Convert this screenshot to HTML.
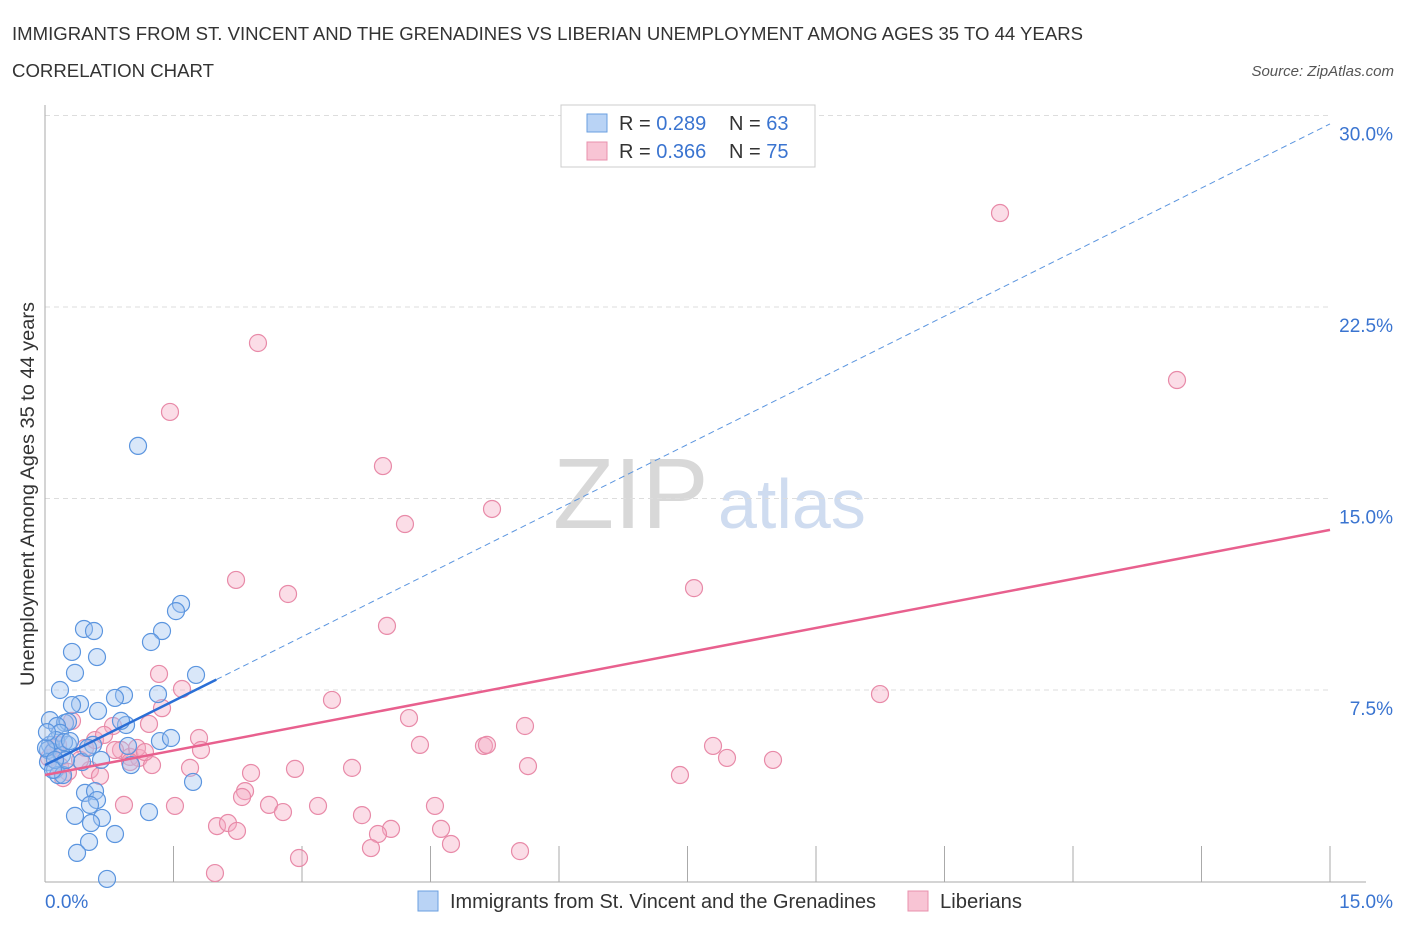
<!DOCTYPE html>
<html><head><meta charset="utf-8"><style>
body{margin:0;background:#fff;font-family:"Liberation Sans",sans-serif}
svg text{font-family:"Liberation Sans",sans-serif}
</style></head><body>
<svg id="chart" width="1406" height="930" xmlns="http://www.w3.org/2000/svg">
<text x="12" y="40" font-size="18" fill="#333" textLength="1071" lengthAdjust="spacingAndGlyphs">IMMIGRANTS FROM ST. VINCENT AND THE GRENADINES VS LIBERIAN UNEMPLOYMENT AMONG AGES 35 TO 44 YEARS</text>
<text x="12" y="77" font-size="18" fill="#333" textLength="202" lengthAdjust="spacingAndGlyphs">CORRELATION CHART</text>
<text x="1394" y="76" font-size="15" fill="#555" text-anchor="end" font-style="italic">Source: ZipAtlas.com</text>
<text x="553" y="528" font-size="100" fill="#d8d8d8" font-family="Liberation Serif">ZIP</text>
<text x="718" y="528" font-size="70" fill="#cfdcf0">atlas</text>
<g id="grid"></g>
<g id="axes"></g>
<g id="pts"></g>
<g id="lines"></g>
<text transform="translate(34,494) rotate(-90)" font-size="19" fill="#333" text-anchor="middle" textLength="384" lengthAdjust="spacingAndGlyphs">Unemployment Among Ages 35 to 44 years</text>
<g>
<rect x="561" y="105" width="254" height="62" fill="#fff" stroke="#ccc"/>
<rect x="587" y="114" width="20" height="18" fill="#b9d3f5" stroke="#6a9fe0"/>
<text x="619" y="130" font-size="20" fill="#333">R = <tspan fill="#3a74d0">0.289</tspan></text>
<text x="729" y="130" font-size="20" fill="#333">N = <tspan fill="#3a74d0">63</tspan></text>
<rect x="587" y="142" width="20" height="18" fill="#f8c4d4" stroke="#e890ad"/>
<text x="619" y="158" font-size="20" fill="#333">R = <tspan fill="#3a74d0">0.366</tspan></text>
<text x="729" y="158" font-size="20" fill="#333">N = <tspan fill="#3a74d0">75</tspan></text>
</g>
<g>
<rect x="418" y="891" width="20" height="20" fill="#b9d3f5" stroke="#6a9fe0"/>
<text x="450" y="908" font-size="20" fill="#333" textLength="426" lengthAdjust="spacingAndGlyphs">Immigrants from St. Vincent and the Grenadines</text>
<rect x="908" y="891" width="20" height="20" fill="#f8c4d4" stroke="#e890ad"/>
<text x="940" y="908" font-size="20" fill="#333" textLength="82" lengthAdjust="spacingAndGlyphs">Liberians</text>
</g>
</svg>
<script>
const NS="http://www.w3.org/2000/svg";
const yTicks=[7.5,15,22.5,30];
const yTickLabels=["7.5%","15.0%","22.5%","30.0%"];
const xTicks=[0,1.5,3,4.5,6,7.5,9,10.5,12,13.5,15];
const xEndLabels=["0.0%","15.0%"];
const blueX=[1.086,1.588,1.529,1.366,1.237,0.455,0.572,0.315,0.607,0.350,0.175,1.763,1.319,0.922,0.817,0.409,0.315,0.619,0.058,0.233,0.268,0.140,0.946,0.887,0.175,0.058,0.268,0.560,0.035,1.342,1.471,0.969,0.093,0.198,0.654,0.432,1.004,0.035,0.117,0.152,0.210,1.728,0.467,0.584,0.607,0.525,0.350,0.665,0.537,0.817,1.214,0.514,0.374,0.724,0.128,0.012,0.245,0.117,0.222,0.023,0.292,0.502,0.093];
const blueY=[17.06,10.87,10.59,9.81,9.38,9.89,9.81,8.99,8.79,8.17,7.50,8.09,7.34,7.30,7.19,6.95,6.91,6.68,6.32,6.21,6.25,6.09,6.13,6.29,5.82,5.35,5.35,5.35,5.15,5.50,5.62,5.31,5.07,4.95,4.76,4.68,4.56,4.68,4.37,4.17,4.17,3.90,3.47,3.54,3.19,3.00,2.57,2.49,2.29,1.86,2.72,1.55,1.12,0.10,5.54,5.23,4.76,4.76,5.46,5.85,5.50,5.23,4.37];
const pinkX=[11.148,2.486,1.459,13.214,3.945,4.202,5.218,2.230,2.837,7.576,3.992,1.331,1.599,3.350,9.747,1.366,4.249,1.214,5.603,0.794,0.315,1.798,4.377,5.124,5.159,7.798,7.961,1.821,0.887,0.992,1.097,1.249,8.498,5.638,1.693,2.405,2.918,3.584,0.047,0.175,0.268,0.525,0.642,0.210,2.335,2.300,7.412,0.922,1.517,2.615,3.187,3.700,2.778,4.552,2.008,2.136,2.241,4.039,3.887,4.623,3.805,4.739,2.965,5.545,1.984,0.467,0.584,0.117,0.817,1.074,0.689,1.167,0.152,0.409,0.992];
const pinkY=[26.18,21.09,18.39,19.64,16.27,14.00,14.59,11.81,11.26,11.49,10.01,8.13,7.54,7.11,7.34,6.79,6.40,6.17,6.09,6.09,6.29,5.62,5.35,5.31,5.35,5.31,4.84,5.15,5.15,4.88,4.84,4.56,4.76,4.52,4.45,4.25,4.41,4.45,4.84,4.52,4.29,4.37,4.13,4.05,3.54,3.31,4.17,3.00,2.96,3.00,2.96,2.60,2.72,2.96,2.17,2.29,1.98,2.06,1.86,2.06,1.31,1.47,0.92,1.19,0.33,5.23,5.54,5.23,5.15,5.23,5.74,5.07,5.35,4.76,4.68];
const blueTrend=[4.56,29.67];
const blueSolidEnd=2.0;
const pinkTrend=[4.17,13.77];
const X=v=>45+v/15*1285, Y=v=>881.5-v/7.5*191.5;
function mk(tag,attrs,parent){const e=document.createElementNS(NS,tag);for(const k in attrs)e.setAttribute(k,attrs[k]);document.getElementById(parent).appendChild(e);return e;}
yTicks.forEach((t,i)=>{
 const g=mk('line',{x1:45,x2:1330,y1:Y(t),y2:Y(t),stroke:'#ddd','stroke-dasharray':'5,4'},'grid');
 
 
 const l=mk('text',{x:1393,y:Y(t)+25,'font-size':19,fill:'#3a74d0','text-anchor':'end'},'axes');
 l.textContent=yTickLabels[i];
 
 
});
const ax=mk('line',{x1:45,x2:45,y1:105,y2:882,stroke:'#aaa'},'axes');


const bx=mk('line',{x1:45,x2:1366,y1:882,y2:882,stroke:'#aaa'},'axes');


xTicks.slice(1).forEach(t=>{
 const e=mk('line',{x1:X(t),x2:X(t),y1:846,y2:882,stroke:'#aaa'},'axes');
 
 
});
const xl0=mk('text',{x:45,y:908,'font-size':19,fill:'#3a74d0'},'axes');xl0.textContent=xEndLabels[0];


const xl1=mk('text',{x:1393,y:908,'font-size':19,fill:'#3a74d0','text-anchor':'end'},'axes');xl1.textContent=xEndLabels[1];


pinkX.forEach((x,i)=>{
 const c=mk('circle',{cx:X(x),cy:Y(pinkY[i]),r:8.5,fill:'rgba(245,170,195,0.4)',stroke:'#e88aa8','stroke-width':1.2},'pts');
 
 
});
blueX.forEach((x,i)=>{
 const c=mk('circle',{cx:X(x),cy:Y(blueY[i]),r:8.5,fill:'rgba(160,195,240,0.4)',stroke:'#5b95df','stroke-width':1.2},'pts');
 
 
});
const by=x=>blueTrend[0]+(blueTrend[1]-blueTrend[0])*x/15;
const bd=mk('line',{x1:X(blueSolidEnd),y1:Y(by(blueSolidEnd)),x2:X(15),y2:Y(by(15)),stroke:'#5b95df','stroke-dasharray':'6,4','stroke-width':1},'lines');


const bs=mk('line',{x1:X(0),y1:Y(by(0)),x2:X(blueSolidEnd),y2:Y(by(blueSolidEnd)),stroke:'#2a6fd6','stroke-width':2.5},'lines');


const pl=mk('line',{x1:X(0),y1:Y(pinkTrend[0]),x2:X(15),y2:Y(pinkTrend[1]),stroke:'#e8608e','stroke-width':2.5},'lines');


</script>
</body></html>
